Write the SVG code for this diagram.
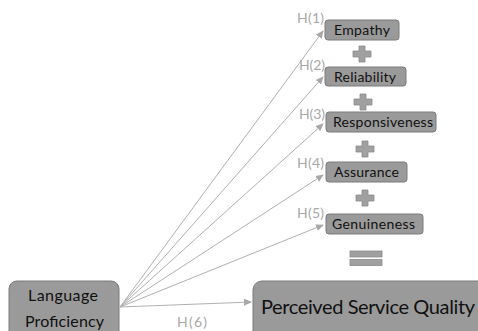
<svg xmlns="http://www.w3.org/2000/svg" width="478" height="331" viewBox="0 0 478 331">
<style>
.box{fill:#9a9a9a;stroke:#7a7a7a;stroke-width:1}
.t{font-family:Lato,"Open Sans",sans-serif;fill:#111;font-size:14px}
.big{font-size:16px}
.huge{font-size:20px}
.h{font-family:Lato,"Open Sans",sans-serif;fill:#a8a8a8;font-size:14px}
.ln{stroke:#b0b0b0;stroke-width:1;fill:none}
.sym{fill:#a0a0a0;stroke:#8a8a8a;stroke-width:0.8}
</style>
<defs>
<marker id="ah" markerWidth="8" markerHeight="8" refX="7" refY="4" orient="auto" markerUnits="userSpaceOnUse">
<path d="M0,0.5 L8,4 L0,7.5 Z" fill="#a8a8a8"/>
</marker>
</defs>
<rect width="478" height="331" fill="#fff"/>
<g id="connectors">
<line class="ln" x1="120" y1="307" x2="323" y2="31" marker-end="url(#ah)"/>
<line class="ln" x1="120" y1="307" x2="323" y2="77" marker-end="url(#ah)"/>
<line class="ln" x1="120" y1="307" x2="323" y2="124" marker-end="url(#ah)"/>
<line class="ln" x1="120" y1="307" x2="323" y2="175" marker-end="url(#ah)"/>
<line class="ln" x1="120" y1="307" x2="323" y2="225" marker-end="url(#ah)"/>
<line class="ln" x1="120" y1="307" x2="251" y2="302" marker-end="url(#ah)"/>
<text class="h" x="297" y="23" textLength="27">H(1)</text>
<text class="h" x="299" y="70" textLength="26">H(2)</text>
<text class="h" x="299" y="119" textLength="26">H(3)</text>
<text class="h" x="297" y="168" textLength="27">H(4)</text>
<text class="h" x="297" y="218" textLength="27">H(5)</text>
<text class="h" x="177" y="327" textLength="30">H(6)</text>
</g>
<g id="empathy"><rect class="box" x="325" y="20" width="74" height="20" rx="3"/><text class="t" x="334" y="35" textLength="56">Empathy</text></g>
<g id="reliability"><rect class="box" x="325" y="67" width="81" height="19" rx="3"/><text class="t" x="334" y="81.5" textLength="62">Reliability</text></g>
<g id="responsiveness"><rect class="box" x="326" y="112" width="110" height="20" rx="3"/><text class="t" x="333" y="127" textLength="100">Responsiveness</text></g>
<g id="assurance"><rect class="box" x="326" y="162" width="81" height="20" rx="3"/><text class="t" x="334" y="177" textLength="65">Assurance</text></g>
<g id="genuineness"><rect class="box" x="326" y="214" width="97" height="20" rx="3"/><text class="t" x="332" y="229" textLength="83">Genuineness</text></g>
<g id="plus1"><path class="sym" d="M359,46 h6 v5 h6 v6 h-6 v5 h-6 v-5 h-6 v-6 h6 z"/></g>
<g id="plus2"><path class="sym" d="M360,94 h6 v5 h6 v6 h-6 v5 h-6 v-5 h-6 v-6 h6 z"/></g>
<g id="plus3"><path class="sym" d="M362,141 h6 v5 h6 v6 h-6 v5 h-6 v-5 h-6 v-6 h6 z"/></g>
<g id="plus4"><path class="sym" d="M362,190 h6 v5 h6 v6 h-6 v5 h-6 v-5 h-6 v-6 h6 z"/></g>
<g id="equals"><rect class="sym" x="350" y="251" width="32" height="6"/><rect class="sym" x="350" y="259.5" width="32" height="6"/></g>
<g id="language"><rect class="box" x="9" y="281" width="110" height="60" rx="8"/><text class="t big" x="28" y="301" textLength="70">Language</text><text class="t big" x="25" y="327" textLength="79">Proficiency</text></g>
<g id="psq"><rect class="box" x="253" y="281" width="240" height="60" rx="9"/><text class="t huge" x="261" y="314" textLength="214">Perceived Service Quality</text></g>
</svg>
